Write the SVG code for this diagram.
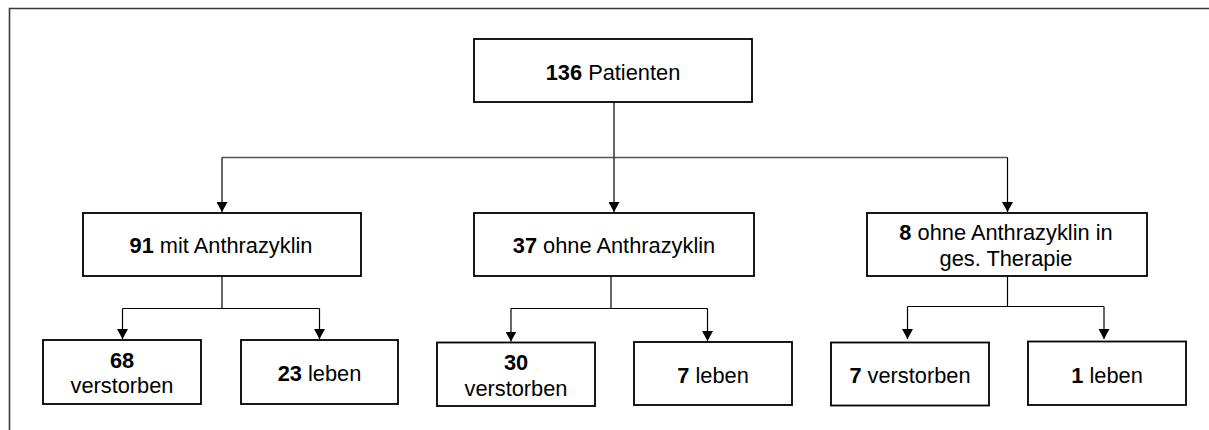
<svg xmlns="http://www.w3.org/2000/svg" width="1209" height="430" viewBox="0 0 1209 430">
<style>
.box{fill:#fff;stroke:#000;stroke-width:1.8}
.t{font-family:"Liberation Sans",Arial,sans-serif;font-size:21.8px;fill:#000;text-anchor:middle}
.b{font-weight:bold}
.ln{fill:none;stroke:#000;stroke-width:1.2}
.lg{fill:none;stroke:#555;stroke-width:1.5}
</style>
<defs>
<marker id="ah" markerWidth="10" markerHeight="11" refX="10" refY="5.5" orient="auto" markerUnits="userSpaceOnUse" viewBox="0 0 10 11">
<path d="M0,0 L10,5.5 L0,11 Z" fill="#000"/>
</marker>
</defs>
<rect width="1209" height="430" fill="#fff"/>
<polyline points="9.5,430 9.5,8.5 1209,8.5" fill="none" stroke="#3a3a3a" stroke-width="1.6"/>
<g id="connectors">
<line class="ln" x1="614" y1="102" x2="614" y2="157.5"/>
<line class="lg" x1="222" y1="157.5" x2="1007.5" y2="157.5"/>
<path class="ln" d="M222,157.5 V212" marker-end="url(#ah)"/>
<path class="ln" d="M614,157.5 V212" marker-end="url(#ah)"/>
<path class="ln" d="M1007.5,157.5 V212" marker-end="url(#ah)"/>
<line class="ln" x1="222" y1="276" x2="222" y2="308.5"/>
<line class="ln" x1="122.5" y1="308.5" x2="319.5" y2="308.5"/>
<path class="ln" d="M122.5,308.5 V339" marker-end="url(#ah)"/>
<path class="ln" d="M319.5,308.5 V339" marker-end="url(#ah)"/>
<line class="ln" x1="611" y1="276" x2="611" y2="308.5"/>
<line class="ln" x1="511" y1="308.5" x2="707.5" y2="308.5"/>
<path class="ln" d="M511,308.5 V341.5" marker-end="url(#ah)"/>
<path class="ln" d="M707.5,308.5 V341" marker-end="url(#ah)"/>
<line class="ln" x1="1007.5" y1="276" x2="1007.5" y2="306.5"/>
<line class="ln" x1="907.5" y1="306.5" x2="1104" y2="306.5"/>
<path class="ln" d="M907.5,306.5 V339" marker-end="url(#ah)"/>
<path class="ln" d="M1104,306.5 V339" marker-end="url(#ah)"/>
</g>
<g id="n136">
<rect class="box" x="474" y="39" width="278" height="63"/>
<text class="t" x="613" y="80"><tspan class="b">136</tspan> Patienten</text>
</g>
<g id="n91">
<rect class="box" x="83" y="213" width="278" height="63"/>
<text class="t" x="221" y="253"><tspan class="b">91</tspan> mit Anthrazyklin</text>
</g>
<g id="n37">
<rect class="box" x="474" y="213" width="280" height="63"/>
<text class="t" x="614" y="253"><tspan class="b">37</tspan> ohne Anthrazyklin</text>
</g>
<g id="n8">
<rect class="box" x="867" y="213" width="280" height="63"/>
<text class="t" x="1006" y="240"><tspan class="b">8</tspan> ohne Anthrazyklin in</text>
<text class="t" x="1006" y="266">ges. Therapie</text>
</g>
<g id="n68">
<rect class="box" x="43" y="340" width="158" height="64"/>
<text class="t" x="122" y="368"><tspan class="b">68</tspan></text>
<text class="t" x="122" y="393">verstorben</text>
</g>
<g id="n23">
<rect class="box" x="241" y="340" width="157" height="64"/>
<text class="t" x="319.5" y="381"><tspan class="b">23</tspan> leben</text>
</g>
<g id="n30">
<rect class="box" x="437" y="342.5" width="158" height="63.5"/>
<text class="t" x="516" y="370"><tspan class="b">30</tspan></text>
<text class="t" x="516" y="396">verstorben</text>
</g>
<g id="n7l">
<rect class="box" x="634" y="342" width="158" height="63"/>
<text class="t" x="713" y="383"><tspan class="b">7</tspan> leben</text>
</g>
<g id="n7v">
<rect class="box" x="831" y="342.5" width="158" height="63"/>
<text class="t" x="910" y="383"><tspan class="b">7</tspan> verstorben</text>
</g>
<g id="n1">
<rect class="box" x="1028" y="341.5" width="158" height="63.5"/>
<text class="t" x="1107" y="383"><tspan class="b">1</tspan> leben</text>
</g>
</svg>
